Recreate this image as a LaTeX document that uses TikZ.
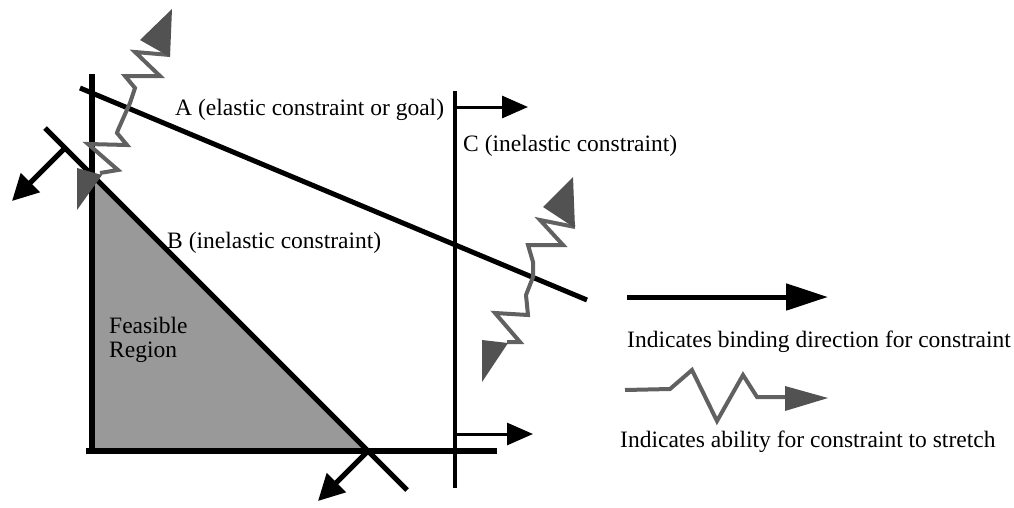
\documentclass[tikz,border=0pt]{standalone}
\usepackage{fontspec}
\setmainfont{Liberation Serif}
\usetikzlibrary{arrows.meta}
\begin{document}
\begin{tikzpicture}[x=1pt,y=-1pt,
  axisline/.style={line width=6pt,line cap=rect},
  cline/.style={line width=5pt},
  vline/.style={line width=3.5pt},
  bind/.style={line width=5pt,-{Triangle[length=26pt,width=26pt]}},
  cbind/.style={line width=3pt,-{Triangle[length=26pt,width=22pt]}},
  legbind/.style={line width=5pt,-{Triangle[length=42pt,width=26pt]}},
  lbl/.style={anchor=base west,inner sep=0pt,font=\fontsize{23.5}{28}\selectfont},
  stretch/.style={line width=4pt,draw=black!62,line join=miter},
  shead/.style={fill=black!68,draw=none},
  region/.style={fill=black!40,draw=none}]
\useasboundingbox (0,0) rectangle (1014,507);
% key points
\coordinate (O) at (92,451);
\coordinate (Ytop) at (92,77);
\coordinate (Xstart) at (89,451);
\coordinate (Xend) at (494,451);
\coordinate (A1) at (80,88);
\coordinate (A2) at (587,300);
\coordinate (B1) at (45,128);
\coordinate (B2) at (407,490);
\coordinate (BY) at (92,175);
\coordinate (BX) at (368,451);
\coordinate (C1) at (455,91);
\coordinate (C2) at (455,488);
\coordinate (Ca) at (455,107);
\coordinate (Cat) at (528,107);
\coordinate (Cb) at (455,434);
\coordinate (Cbt) at (533,434);
\coordinate (Bu) at (65,148);
\coordinate (But) at (12,201);
\coordinate (Bdt) at (318,501);
\coordinate (L1) at (627,297);
\coordinate (L2) at (828,297);
% feasible region
\fill[region] (BY) -- (O) -- (BX) -- cycle;
% axes
\draw[axisline] (Ytop) -- (O);
\draw[axisline] (Xstart) -- (Xend);
% constraints
\draw[cline] (A1) -- (A2);
\draw[cline] (B1) -- (B2);
\draw[vline] (C1) -- (C2);
% binding arrows
\draw[bind] (Bu) -- (But);
\draw[bind] (BX) -- (Bdt);
\draw[cbind] (Ca) -- (Cat);
\draw[cbind] (Cb) -- (Cbt);
% stretch, left
\draw[stretch] (170,55) -- (135,52) -- (160,76) -- (125,76) -- (135,88) -- (130,103) -- (118,130) -- (117,133) -- (127,145) -- (88,144) -- (118,170) -- (100,173);
\fill[shead] (140,40) -- (170,57) -- (172,9) -- cycle;
\fill[shead] (77,168) -- (102,175) -- (77,210) -- cycle;
% stretch, right
\draw[stretch] (575,227) -- (540,220) -- (563,245) -- (528,245) -- (533,262) -- (533,277) -- (526,295) -- (528,315) -- (495,313) -- (520,342) -- (507,342);
\fill[shead] (543,207) -- (575,228) -- (573,177) -- cycle;
\fill[shead] (482,340) -- (508,343) -- (482,382) -- cycle;
% labels
\node[lbl] (la) at (175,115) {A (elastic constraint or goal)};
\node[lbl] (lc) at (463,151) {C (inelastic constraint)};
\node[lbl] (lb) at (167,248) {B (inelastic constraint)};
\node[lbl] (lf1) at (109,333) {Feasible};
\node[lbl] (lf2) at (109,357) {Region};
% legend
\draw[legbind] (L1) -- (L2);
\node[lbl] (leg1) at (627,347) {Indicates binding direction for constraint};
\draw[stretch] (625,390) -- (670,389) -- (692,370) -- (717,421) -- (743,375) -- (757,397) -- (787,397);
\fill[shead] (785,386) -- (828,398) -- (785,411) -- cycle;
\node[lbl] (leg2) at (620,447) {Indicates ability for constraint to stretch};
\end{tikzpicture}
\end{document}
